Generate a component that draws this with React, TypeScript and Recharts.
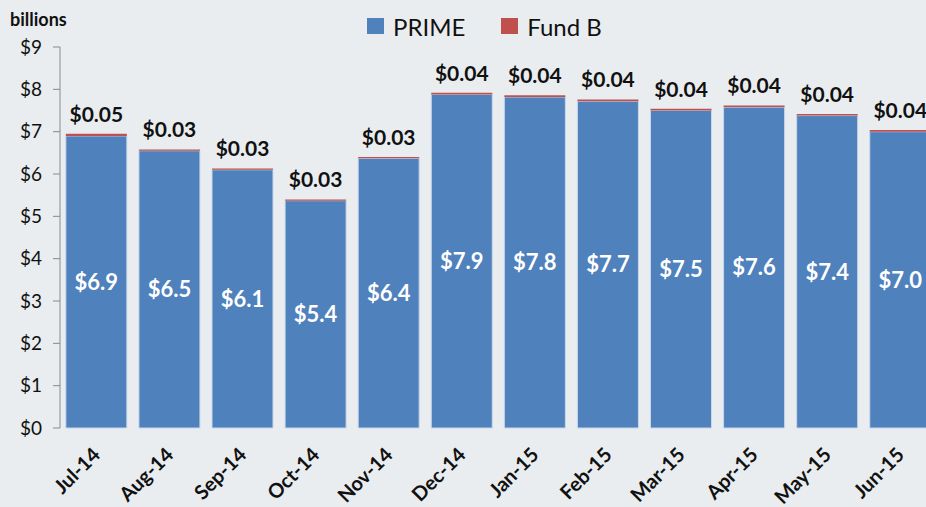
import React from "react";
import { BarChart, Bar, XAxis, YAxis, Legend, LabelList } from "recharts";

const months = ["Jul-14", "Aug-14", "Sep-14", "Oct-14", "Nov-14", "Dec-14", "Jan-15", "Feb-15", "Mar-15", "Apr-15", "May-15", "Jun-15"];
const prime = [6.9, 6.55, 6.1, 5.37, 6.37, 7.88, 7.82, 7.72, 7.5, 7.58, 7.38, 7.0];
const fundB = [0.05, 0.03, 0.03, 0.03, 0.03, 0.04, 0.04, 0.04, 0.04, 0.04, 0.04, 0.04];
const seriesNames = ["PRIME", "Fund B"];
const yTicks = [0, 1, 2, 3, 4, 5, 6, 7, 8, 9];
const edgeTicks = [0, 1, 2, 3, 4, 5, 6, 7, 8, 9, 10, 11, 12];

const data = months.map((month, i) => ({ month, prime: prime[i], fundB: fundB[i] }));

const FONT = "Lato, 'Open Sans', sans-serif";

function MonthTick(props: any) {
  const { x, y, payload } = props;
  const ax = x + 5;
  const ay = y + 20;
  return (
    <text
      x={ax}
      y={ay}
      transform={`rotate(-45, ${ax}, ${ay})`}
      textAnchor="end"
      fontFamily={FONT}
      fontWeight="bold"
      fontSize={20}
      fill="#111"
    >
      {payload.value}
    </text>
  );
}

function TopLegend(props: any) {
  const items = [...(props.payload || [])].sort(
    (a: any, b: any) => seriesNames.indexOf(a.value) - seriesNames.indexOf(b.value)
  );
  return (
    <div style={{ display: "flex", alignItems: "center", height: 30, fontFamily: FONT, fontSize: 24, color: "#111" }}>
      {items.map((item: any) => (
        <div key={item.value} style={{ display: "flex", alignItems: "center", marginRight: 36 }}>
          <span style={{ display: "inline-block", width: 17, height: 16, background: item.color, marginRight: 9 }} />
          <span>{item.value}</span>
        </div>
      ))}
    </div>
  );
}

export default function App() {
  return (
    <div
      style={{
        position: "fixed",
        left: 0,
        top: 0,
        width: 926,
        height: 507,
        overflow: "hidden",
        background: "#e9edef",
      }}
    >
      <div
        style={{
          position: "absolute",
          left: 10,
          top: 10,
          lineHeight: 1,
          fontFamily: FONT,
          fontWeight: "bold",
          fontSize: 18,
          color: "#111",
        }}
      >
        billions
      </div>
      <BarChart
        width={940}
        height={507}
        data={data}
        margin={{ top: 17, right: 3, left: 0, bottom: 4 }}
        barCategoryGap="8%"
      >
        <Legend
          verticalAlign="top"
          content={<TopLegend />}
          wrapperStyle={{ top: 11, left: 367, width: "auto", height: 30 }}
        />
        <XAxis
          xAxisId="edges"
          type="number"
          domain={[0, 12]}
          ticks={edgeTicks}
          allowDataOverflow
          height={0}
          tick={() => <g />}
          tickSize={7}
          tickLine={{ stroke: "#898989" }}
          axisLine={{ stroke: "#898989" }}
        />
        <XAxis
          xAxisId="cats"
          dataKey="month"
          height={75}
          interval={0}
          tick={<MonthTick />}
          tickLine={false}
          axisLine={false}
        />
        <YAxis
          width={60}
          domain={[0, 9]}
          ticks={yTicks}
          interval={0}
          tickFormatter={(v: number) => `$${v}`}
          tick={{ fill: "#111", fontSize: 19, fontFamily: FONT }}
          tickSize={7}
          tickMargin={11}
          tickLine={{ stroke: "#898989" }}
          axisLine={{ stroke: "#898989" }}
        />
        <Bar
          xAxisId="cats"
          dataKey="prime"
          name="PRIME"
          stackId="a"
          fill="#4f81bd"
          stroke="#c9d7ea"
          strokeWidth={1}
          isAnimationActive={false}
        >
          <LabelList
            dataKey="prime"
            position="center"
            formatter={(v: number) => `$${v.toFixed(1)}`}
            fill="#fff"
            fontFamily={FONT}
            fontWeight="bold"
            fontSize={22}
          />
        </Bar>
        <Bar
          xAxisId="cats"
          dataKey="fundB"
          name="Fund B"
          stackId="a"
          fill="#c0504d"
          isAnimationActive={false}
        >
          <LabelList
            dataKey="fundB"
            position="top"
            offset={12}
            formatter={(v: number) => `$${v.toFixed(2)}`}
            fill="#111"
            fontFamily={FONT}
            fontWeight="bold"
            fontSize={21}
          />
        </Bar>
      </BarChart>
    </div>
  );
}
